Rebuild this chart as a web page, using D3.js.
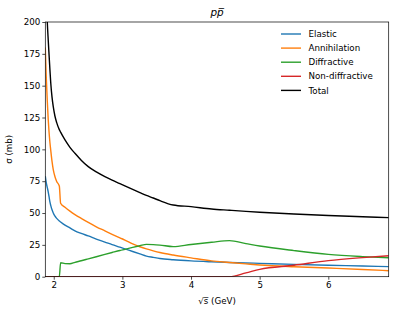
<!DOCTYPE html>
<html><head><meta charset="utf-8">
<script src="https://cdn.jsdelivr.net/npm/d3@7"></script>
<style>body{margin:0;background:#fff}svg{display:block;font-family:"DejaVu Sans",sans-serif}</style>
</head><body><svg id="c" width="399" height="315"></svg>
<script>
const energy        = [1.877,1.89,1.906,1.92,1.931,1.945,1.956,1.975,1.993,2.018,2.043,2.081,2.1,2.164,2.236,2.309,2.4,2.503,2.62,2.745,2.85,2.964,3.036,3.15,3.255,3.35,3.45,3.546,3.74,4.0,4.3,4.56,4.8,5.0,5.5,6.0,6.5,6.88];
const elastic       = [79,74,70,66.5,63,58.5,56,52.5,50,47.5,45.8,43.8,43,40.5,38.3,36,34,32,29.5,27.2,25.2,23.2,21.9,19.8,17.9,16.2,15.2,14.3,13.3,12.4,11.7,11.2,10.8,10.5,9.7,9.0,8.4,7.9];
const annihilation  = [180,158,138,123,114,105,99.5,90.5,84,78.5,74.8,71.2,57.7,54.5,51.5,48.8,45.8,42.6,39.2,36,33.3,30.5,28.8,25.8,23.5,21.8,20.3,19,17,14.8,12.4,11.2,10.1,9.2,7.8,6.8,5.7,4.7];
const diffractive   = [0,0,0,0,0,0,0,0,0,0,0,0,11,10.3,10.2,11.3,12.5,14,15.7,17.5,19,20.6,21.5,23,24.3,25.4,25.2,24.8,23.6,25.3,27,28.3,26,24.1,20.5,17.5,15.8,14.9];
const nondiffractive= [0,0,0,0,0,0,0,0,0,0,0,0,0,0,0,0,0,0,0,0,0,0,0,0,0,0,0,0,0,0,0,0,3.0,5.8,9.0,12.6,15,16.5];
const total         = [260,228,200,185.5,175,162,152.5,141,133.5,126,121,115.5,113.5,107.4,101.6,96.9,91.5,86.4,82.3,78.6,75.8,73.1,71.3,68.5,66,63.8,61.8,59.7,56.3,55,53.2,52.2,51.3,50.6,49.2,48,47.1,46.4];
const seriesNames = ["Elastic","Annihilation","Diffractive","Non-diffractive","Total"];
const seriesVals  = [elastic,annihilation,diffractive,nondiffractive,total];
const colors      = ["#1f77b4","#ff7f0e","#2ca02c","#d62728","#000000"];
const xTicks = [2,3,4,5,6];
const yTicks = [0,25,50,75,100,125,150,175,200];

const svg = d3.select("#c");
const L=45.3,R=388.7,T=22,B=276.7;
const x = d3.scaleLinear().domain([1.877,6.88]).range([L,R]);
const y = d3.scaleLinear().domain([0,200]).range([B,T]);

svg.append("defs").append("clipPath").attr("id","clip")
  .append("rect").attr("x",L).attr("y",T).attr("width",R-L).attr("height",B-T);

const line = d3.line().x((d,i)=>x(energy[i])).y(d=>y(d)).curve(d3.curveMonotoneX);
const g = svg.append("g").attr("clip-path","url(#clip)");
seriesVals.forEach((vals,k)=>{
  g.append("path").attr("d",line(vals)).attr("fill","none")
   .attr("stroke",colors[k]).attr("stroke-width",1.4).attr("stroke-linejoin","round");
});

// axes
const xa = svg.append("g").attr("transform",`translate(0,${B})`)
  .call(d3.axisBottom(x).tickValues(xTicks).tickSize(3).tickPadding(2).tickFormat(d3.format("d")));
const ya = svg.append("g").attr("transform",`translate(${L},0)`)
  .call(d3.axisLeft(y).tickValues(yTicks).tickSize(3).tickPadding(2).tickFormat(d3.format("d")));
[xa,ya].forEach(a=>{
  a.select(".domain").remove();
  a.selectAll("text").attr("font-size",8.7).attr("fill","#000").attr("font-family","DejaVu Sans");
  a.selectAll("line").attr("stroke","#000").attr("stroke-width",0.7);
});
svg.append("rect").attr("x",L).attr("y",T).attr("width",R-L).attr("height",B-T)
  .attr("fill","none").attr("stroke","#000").attr("stroke-width",0.7);

// labels
svg.append("text").attr("x",(L+R)/2).attr("y",16).attr("text-anchor","middle")
  .attr("font-size",10.4).attr("font-style","italic").text("pp\u0305");
svg.append("text").attr("x",(L+R)/2).attr("y",304).attr("text-anchor","middle")
  .attr("font-size",8.7).text("\u221As\u0305 (GeV)");
svg.append("text").attr("transform",`translate(12,${(T+B)/2}) rotate(-90)`).attr("text-anchor","middle")
  .attr("font-size",8.7).text("\u03C3 (mb)");

// legend
seriesNames.forEach((n,i)=>{
  const yy = 34 + i*14.1;
  svg.append("line").attr("x1",281).attr("x2",301).attr("y1",yy).attr("y2",yy)
    .attr("stroke",colors[i]).attr("stroke-width",1.4);
  svg.append("text").attr("x",308.5).attr("y",yy+3.1).attr("font-size",8.7).text(n);
});
</script></body></html>
